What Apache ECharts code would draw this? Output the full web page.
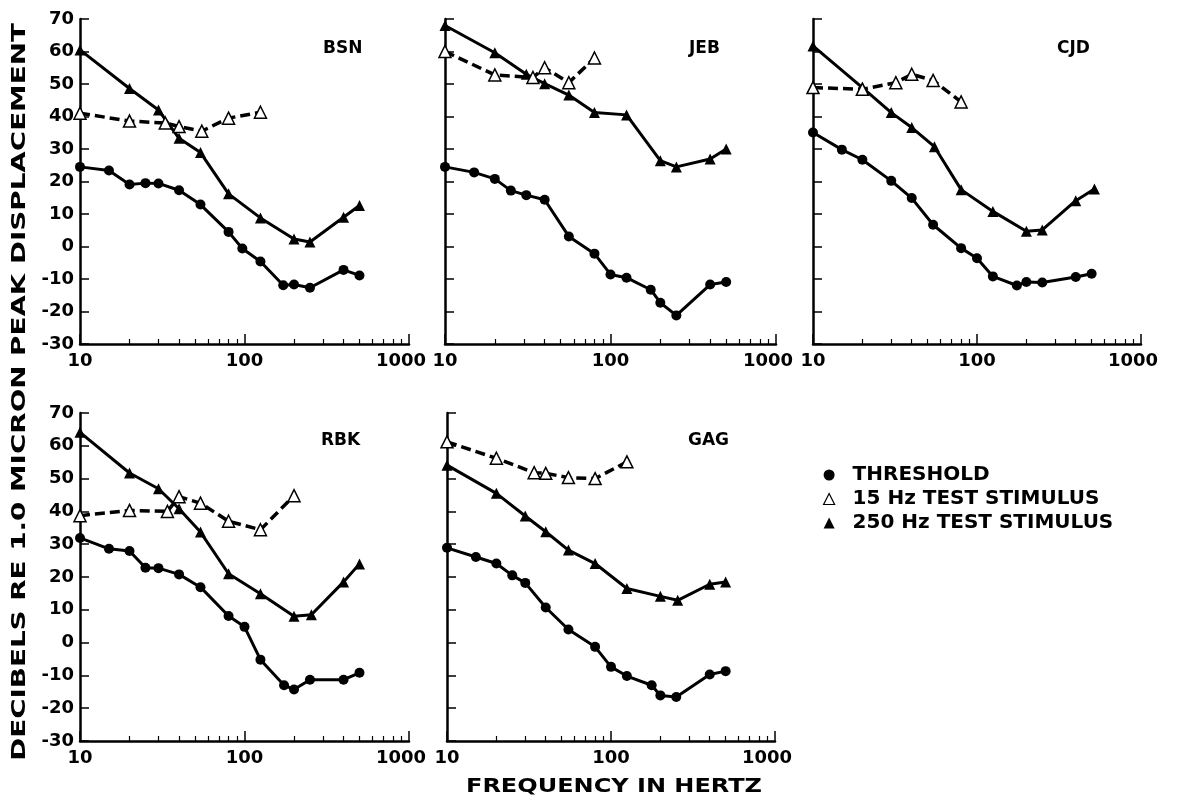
<!DOCTYPE html>
<html><head><meta charset="utf-8">
<script src="https://cdn.jsdelivr.net/npm/echarts@6/dist/echarts.min.js"></script>
<style>html,body{margin:0;padding:0;background:#fff}#c{width:1183px;height:803px}</style>
</head><body><div id="c"></div>
<script>
// ---- data ----
const subjects = ['BSN', 'JEB', 'CJD', 'RBK', 'GAG'];
const seriesNames = ['THRESHOLD', '15 Hz TEST STIMULUS', '250 Hz TEST STIMULUS'];
const xMajorTicks = [10, 100, 1000];
const xMinorTicks = [20, 30, 40, 50, 60, 70, 80, 90, 200, 300, 400, 500, 600, 700, 800, 900];
const yRange = [-30, 70];
const xTitle = 'FREQUENCY IN HERTZ';
const yTitle = 'DECIBELS RE 1.0 MICRON PEAK DISPLACEMENT';

// [frequency Hz, dB]
const bsnThreshold = [[10,24.5],[15,23.4],[20,19.1],[25,19.5],[30,19.4],[40,17.3],[54,12.9],[80,4.5],[97,-0.6],[125,-4.6],[172,-11.9],[200,-11.7],[250,-12.7],[400,-7.2],[500,-8.9]];
const bsn15 = [[10,41],[20,38.6],[33,38],[40,36.9],[55,35.5],[80,39.5],[125,41.3]];
const bsn250 = [[10,60.5],[20,48.6],[30,42],[40,33.3],[54,28.9],[80,16.2],[125,8.8],[200,2.3],[250,1.4],[400,9],[500,12.6]];

const jebThreshold = [[10,24.5],[15,22.8],[20,20.8],[25,17.2],[31,15.8],[40,14.4],[56,3.1],[80,-2.2],[100,-8.6],[125,-9.6],[175,-13.3],[200,-17.3],[250,-21.2],[400,-11.7],[500,-10.9]];
const jeb15 = [[10,60],[20,52.8],[34,52],[40,55],[56,50.4],[80,58]];
const jeb250 = [[10,68],[20,59.6],[31,53],[40,50.1],[56,46.6],[80,41.2],[125,40.5],[200,26.4],[250,24.5],[400,26.9],[500,30]];

const cjdThreshold = [[10,35.1],[15,29.8],[20,26.7],[30,20.2],[40,14.9],[54,6.7],[80,-0.5],[100,-3.6],[125,-9.2],[175,-12],[200,-10.9],[250,-11.1],[400,-9.4],[500,-8.4]];
const cjd15 = [[10,48.9],[20,48.4],[32,50.4],[40,53],[54,51.1],[80,44.5]];
const cjd250 = [[10,61.7],[20,48.9],[30,41.2],[40,36.6],[55,30.7],[80,17.5],[125,10.8],[200,4.7],[250,5.1],[400,14.1],[520,17.7]];

const rbkThreshold = [[10,31.9],[15,28.6],[20,27.9],[25,22.8],[30,22.7],[40,20.8],[54,16.9],[80,8.1],[100,4.8],[125,-5.2],[174,-13],[200,-14.3],[250,-11.3],[400,-11.3],[500,-9.2]];
const rbk15 = [[10,38.7],[20,40.3],[34,40],[40,44.5],[54,42.5],[80,37],[125,34.4],[200,44.8]];
const rbk250 = [[10,64.1],[20,51.7],[30,46.9],[40,40.8],[54,33.7],[80,21],[125,14.9],[200,8],[255,8.5],[400,18.5],[500,24]];

const gagThreshold = [[10,28.9],[15,26.1],[20,24.1],[25,20.5],[30,18.2],[40,10.7],[55,4],[80,-1.3],[100,-7.4],[125,-10.2],[177,-13],[200,-16.1],[250,-16.6],[400,-9.7],[500,-8.7]];
const gag15 = [[10,61.2],[20,56.2],[34,51.8],[40,51.6],[55,50.3],[80,50],[125,55.1]];
const gag250 = [[10,54.1],[20,45.5],[30,38.6],[40,33.8],[55,28.2],[80,24.1],[125,16.5],[200,14.1],[255,12.9],[400,17.8],[500,18.5]];

const panelData = [
  [bsnThreshold, bsn15, bsn250],
  [jebThreshold, jeb15, jeb250],
  [cjdThreshold, cjd15, cjd250],
  [rbkThreshold, rbk15, rbk250],
  [gagThreshold, gag15, gag250]
];

// ---- layout ----
const FONT = 'DejaVu Sans';
const grids = [
  {left: 80,  top: 19,  width: 329, height: 325},
  {left: 445, top: 19,  width: 331, height: 325},
  {left: 813, top: 19,  width: 328, height: 325},
  {left: 80,  top: 413, width: 329, height: 328},
  {left: 447, top: 413, width: 328, height: 328}
];
const labelPos = [[323, 40], [689, 40], [1057, 40], [321, 432], [688, 432]];
const showYLabels = [true, false, false, true, false];
const labelStyle = {fontSize: 18, fontWeight: 'bold', fontFamily: FONT, color: '#000'};

const xAxes = [], yAxes = [], series = [], titles = [];
grids.forEach((g, i) => {
  xAxes.push({
    gridIndex: i, type: 'log', logBase: 10, min: 10, max: 1000, position: 'bottom',
    axisLine: {show: true, onZero: false, lineStyle: {color: '#000', width: 2.5}},
    axisTick: {show: true, inside: true, length: 10, lineStyle: {color: '#000', width: 1.5}, customValues: xMajorTicks},
    axisLabel: Object.assign({
      show: true, customValues: xMajorTicks, margin: 8,
      formatter: v => { const s = String(Math.round(v)); return Math.round(v) === 1000 ? '{r|' + s + '}' : s; },
      rich: {r: Object.assign({padding: [0, 16, 0, 0]}, labelStyle)}
    }, labelStyle),
    splitLine: {show: false}
  });
  xAxes.push({
    gridIndex: i, type: 'log', logBase: 10, min: 10, max: 1000, position: 'bottom',
    axisLine: {show: false, onZero: false},
    axisTick: {show: true, inside: true, length: 5, lineStyle: {color: '#000', width: 1.2}, customValues: xMinorTicks},
    axisLabel: {show: false},
    splitLine: {show: false}
  });
  yAxes.push({
    gridIndex: i, type: 'value', min: yRange[0], max: yRange[1], interval: 10,
    axisLine: {show: true, onZero: false, lineStyle: {color: '#000', width: 2.5}},
    axisTick: {show: true, inside: true, length: 9, lineStyle: {color: '#000', width: 1.5}},
    axisLabel: Object.assign({show: showYLabels[i], margin: 6}, labelStyle),
    splitLine: {show: false}
  });
  titles.push({
    text: subjects[i], left: labelPos[i][0], top: labelPos[i][1], padding: 0,
    textStyle: {fontSize: 17, fontWeight: 'bold', fontFamily: FONT, color: '#000'}
  });
  const [thr, s15, s250] = panelData[i];
  const xi = i * 2;
  series.push({
    name: seriesNames[0], type: 'line', xAxisIndex: xi, yAxisIndex: i, data: thr,
    symbol: 'circle', symbolSize: 10, clip: false, z: 2,
    itemStyle: {color: '#000'}, lineStyle: {color: '#000', width: 3}
  });
  series.push({
    name: seriesNames[2], type: 'line', xAxisIndex: xi, yAxisIndex: i, data: s250,
    symbol: 'triangle', symbolSize: 11, clip: false, z: 2,
    itemStyle: {color: '#000'}, lineStyle: {color: '#000', width: 3}
  });
  series.push({
    name: seriesNames[1], type: 'line', xAxisIndex: xi, yAxisIndex: i, data: s15,
    symbol: 'triangle', symbolSize: 12, clip: false, z: 3,
    itemStyle: {color: '#fff', borderColor: '#000', borderWidth: 1.5},
    lineStyle: {color: '#000', width: 3.5, type: [10, 5]}
  });
});

const chart = echarts.init(document.getElementById('c'), null, {renderer: 'canvas'});
chart.setOption({
  animation: false,
  backgroundColor: '#fff',
  title: titles,
  grid: grids,
  xAxis: xAxes,
  yAxis: yAxes,
  legend: {
    orient: 'vertical', left: 818, top: 460, itemGap: 4, itemWidth: 11, itemHeight: 11,
    selectedMode: false,
    textStyle: {fontSize: 20, fontWeight: 'bold', fontFamily: FONT, color: '#000', lineHeight: 20, padding: [0, 0, 0, 13]},
    data: [
      {name: seriesNames[0], icon: 'circle', itemStyle: {color: '#000'}},
      {name: seriesNames[1], icon: 'triangle', itemStyle: {color: '#fff', borderColor: '#000', borderWidth: 1.2}},
      {name: seriesNames[2], icon: 'triangle', itemStyle: {color: '#000'}}
    ]
  },
  graphic: [
    {type: 'text', x: 20, y: 392, rotation: Math.PI / 2, scaleX: 1.46, scaleY: 1,
     style: {text: yTitle, fontSize: 19, fontWeight: 'bold', fontFamily: FONT, fill: '#000', align: 'center', verticalAlign: 'middle'}},
    {type: 'text', x: 614, y: 787, scaleX: 1.2, scaleY: 1,
     style: {text: xTitle, fontSize: 20, fontWeight: 'bold', fontFamily: FONT, fill: '#000', align: 'center', verticalAlign: 'middle'}}
  ],
  series: series
});
</script>
</body></html>
